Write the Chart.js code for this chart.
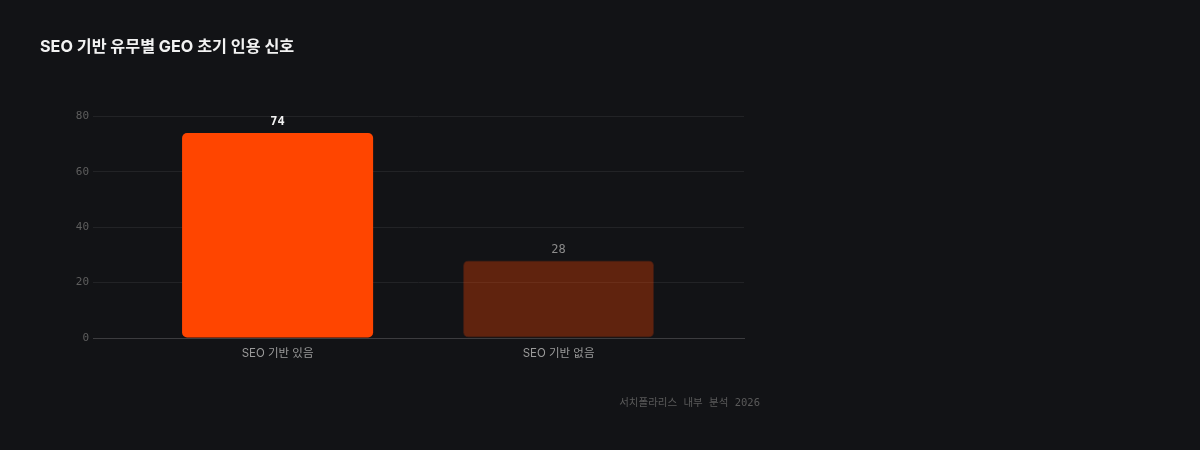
<!DOCTYPE html>
<html>
<head>
<meta charset="utf-8">
<script src="https://cdn.jsdelivr.net/npm/chart.js@4.4.1/dist/chart.umd.min.js"></script>
<style>
  html, body { margin: 0; padding: 0; background: #121316; }
  #wrap { width: 1200px; height: 450px; position: relative; }
</style>
</head>
<body>
<div id="wrap"><canvas id="seoChart" width="1200" height="450"></canvas></div>
<script>
// chart data
const categories = ['SEO 기반 있음', 'SEO 기반 없음'];
const citationSignal = [74, 28];
const yTicks = [0, 20, 40, 60, 80];
const titleText = 'SEO 기반 유무별 GEO 초기 인용 신호';
const sourceText = '서치폴라리스 내부 분석 2026';

const sansFont = "Inter, 'Noto Sans CJK KR', sans-serif";
const monoFont = "'DejaVu Sans Mono', 'Noto Sans CJK KR', monospace";

// value labels above bars + source note
const valueLabels = {
    id: 'valueLabels',
    afterDatasetsDraw(chart) {
        const ctx = chart.ctx;
        const meta = chart.getDatasetMeta(0);
        ctx.save();
        ctx.textAlign = 'center';
        ctx.textBaseline = 'bottom';
        meta.data.forEach((bar, i) => {
            const first = i === 0;
            ctx.font = (first ? 'bold ' : '') + '12px ' + monoFont;
            ctx.fillStyle = first ? '#f2f2f2' : '#8c8c8c';
            ctx.fillText(citationSignal[i], bar.x, bar.y - 5);
        });
        ctx.font = '10.5px ' + monoFont;
        ctx.fillStyle = '#5a5a5a';
        ctx.textAlign = 'right';
        ctx.textBaseline = 'middle';
        ctx.fillText(sourceText, 760, 403);
        ctx.restore();
    }
};

const seoCtx = document.getElementById('seoChart').getContext('2d');
const seoChart = new Chart(seoCtx, {
    type: 'bar',
    data: {
        datasets: [{
            data: citationSignal.map((v, i) => ({ x: i, y: v })),
            backgroundColor: ['#ff4500', 'rgba(255, 69, 0, 0.33)'],
            borderColor: ['#ff4500', 'rgba(255, 69, 0, 0.18)'],
            borderWidth: [0, 1],
            borderRadius: 5,
            borderSkipped: false,
            categoryPercentage: 0.68,
            barPercentage: 1
        }]
    },
    plugins: [valueLabels],
    options: {
        responsive: false,
        animation: false,
        devicePixelRatio: 1,
        layout: { padding: { left: 40, right: 456, top: 0, bottom: 72 } },
        plugins: {
            legend: { display: false },
            tooltip: { enabled: false },
            title: {
                display: true,
                text: titleText,
                align: 'start',
                color: '#f2f2f2',
                font: { family: sansFont, size: 16.2, weight: 'bold' },
                padding: { top: 37, bottom: 60 }
            }
        },
        scales: {
            x: {
                type: 'linear',
                offset: false,
                min: -0.657,
                max: 1.66,
                afterBuildTicks: (scale) => {
                    scale.ticks = categories.map((c, i) => ({ value: i }));
                },
                afterFit: (scale) => { scale.height = 40; },
                ticks: {
                    callback: (v) => categories[v],
                    color: '#9a9a9a',
                    font: { family: sansFont, size: 11.5 },
                    padding: 9,
                    maxRotation: 0
                },
                grid: { display: false, drawTicks: false },
                border: { display: true, color: '#3c3c3f' }
            },
            y: {
                min: 0,
                max: 80,
                afterBuildTicks: (scale) => {
                    scale.ticks = yTicks.map(v => ({ value: v }));
                },
                afterFit: (scale) => { scale.width = 53; },
                ticks: {
                    color: '#5e5e5e',
                    font: { family: monoFont, size: 11 },
                    padding: 4
                },
                grid: { color: '#222326', drawTicks: false },
                border: { display: false }
            }
        }
    }
});
</script>
</body>
</html>
